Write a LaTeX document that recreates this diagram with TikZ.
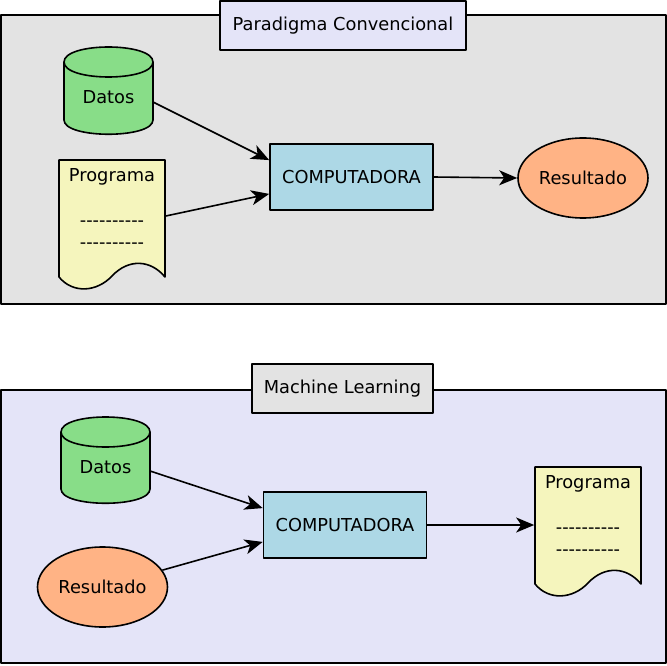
\documentclass[tikz,border=0pt]{standalone}
\usepackage{fontspec}
\setmainfont{DejaVu Sans}
\usetikzlibrary{arrows.meta,positioning,calc,shapes.geometric}

\definecolor{panelgray}{HTML}{E3E3E3}
\definecolor{panelblue}{HTML}{E4E4F8}
\definecolor{datagreen}{HTML}{88DD88}
\definecolor{docyellow}{HTML}{F5F5BD}
\definecolor{compblue}{HTML}{ADD8E6}
\definecolor{resorange}{HTML}{FFB385}
\newcommand{\guiones}{-{}-{}-{}-{}-{}-{}-{}-{}-{}-}

\begin{document}
\begin{tikzpicture}[x=1pt, y=-1pt, line join=round, line width=1.6pt,
    font=\fontsize{17.8}{22}\selectfont,
    titlebox/.style={draw, rectangle, minimum height=49pt, inner sep=0pt},
    compbox/.style={draw, rectangle, fill=compblue, minimum width=163pt, minimum height=66pt, inner sep=0pt},
    resultado/.style={draw, ellipse, fill=resorange, minimum width=130pt, minimum height=80pt, inner sep=0pt},
    doctext/.style={align=center, minimum width=106pt, inner xsep=0pt, inner ysep=8pt},
    docshape/.style={draw, fill=docyellow},
    cilshape/.style={draw, fill=datagreen},
    flecha/.style={-{Stealth[length=18pt, width=15pt, inset=5pt]}}]
\useasboundingbox (0,0) rectangle (667,666);

% Paradigma convencional
\draw[fill=panelgray] (1,15) rectangle (666,304);
\node[titlebox, fill=panelblue, minimum width=246pt] (titulo1) at (343,25.5) {Paradigma Convencional};
\coordinate (cil1) at (64,47);
\draw[cilshape, shift={(cil1)}] (0,15) .. controls (0,-5) and (89,-5) .. (89,15) -- (89,73)
    .. controls (89,92) and (0,92) .. (0,73) -- cycle;
\draw[shift={(cil1)}] (0,15) .. controls (0,35) and (89,35) .. (89,15);
\node (datos1) at ($(cil1)+(44.5,50)$) {Datos};
\coordinate (doc1) at (59,160);
\draw[docshape, shift={(doc1)}] (0,0) -- (106,0) -- (106,117)
    .. controls (92,100) and (70,98) .. (53,116)
    .. controls (38,132) and (14,134) .. (0,117) -- cycle;
\node[doctext, anchor=north] (prog1) at ($(doc1)+(53,0)$) {Programa\\[22.5pt]\guiones\\\guiones};
\node[compbox] (comp1) at (351.5,177) {COMPUTADORA};
\node[resultado] (res1) at (583,178) {Resultado};
\draw[flecha] ($(datos1.center)+(44.5,5)$) -- ($(comp1.north west)!0.25!(comp1.south west)$);
\draw[flecha] ($(prog1.north east)+(0,56)$) -- ($(comp1.north west)!0.75!(comp1.south west)$);
\draw[flecha] (comp1.east) -- (res1.west);

% Machine learning
\draw[fill=panelblue] (1,390) rectangle (666,663);
\node[titlebox, fill=panelgray, minimum width=181pt] (titulo2) at (342.5,388.5) {Machine Learning};
\coordinate (cil2) at (61,417);
\draw[cilshape, shift={(cil2)}] (0,15) .. controls (0,-5) and (89,-5) .. (89,15) -- (89,72)
    .. controls (89,91) and (0,91) .. (0,72) -- cycle;
\draw[shift={(cil2)}] (0,15) .. controls (0,35) and (89,35) .. (89,15);
\node (datos2) at ($(cil2)+(44.5,50)$) {Datos};
\node[resultado] (res2) at (102.5,587) {Resultado};
\node[compbox] (comp2) at (345,525) {COMPUTADORA};
\coordinate (doc2) at (535,467);
\draw[docshape, shift={(doc2)}] (0,0) -- (106,0) -- (106,117)
    .. controls (92,100) and (70,98) .. (53,116)
    .. controls (38,132) and (14,134) .. (0,117) -- cycle;
\node[doctext, anchor=north] (prog2) at ($(doc2)+(53,0)$) {Programa\\[22.5pt]\guiones\\\guiones};
\draw[flecha] ($(datos2.center)+(44.5,4)$) -- ($(comp2.north west)!0.25!(comp2.south west)$);
\draw[flecha] (res2) -- ($(comp2.north west)!0.75!(comp2.south west)$);
\draw[flecha] (comp2.east) -- ($(prog2.north west)+(0,58)$);
\end{tikzpicture}
\end{document}
